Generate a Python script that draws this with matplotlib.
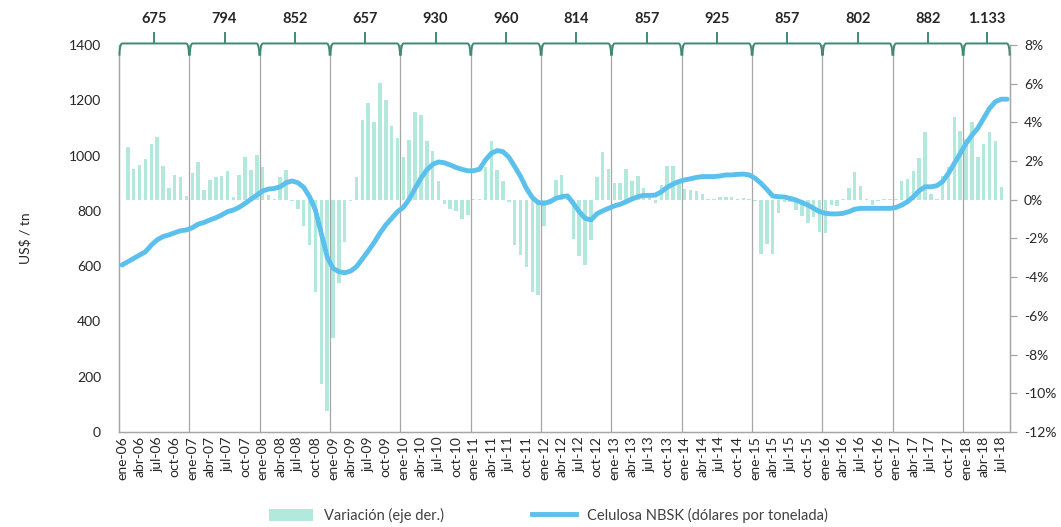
import numpy as np
import matplotlib.pyplot as plt
import matplotlib.transforms as mtransforms
from matplotlib.patches import Patch
from matplotlib.lines import Line2D

plt.rcParams['font.family'] = ['Lato', 'DejaVu Sans']

# precio mensual celulosa NBSK (US$/tn), ene-06 .. ago-18
precio = [
    604, 616, 628, 640, 652, 676, 695, 707, 713, 721, 728, 731,
    739, 752, 758, 767, 775, 785, 797, 803, 813, 827, 842, 857,
    872, 879, 881, 887, 902, 908, 902, 885, 851, 803, 719, 634,
    592, 580, 576, 582, 598, 626, 655, 685, 719, 749, 773, 797,
    813, 842, 881, 918, 948, 968, 977, 974, 966, 957, 950, 945,
    945, 951, 984, 1008, 1018, 1014, 994, 960, 924, 881, 848, 830,
    827, 833, 845, 851, 854, 827, 797, 773, 767, 789, 800, 809,
    818, 824, 833, 843, 851, 856, 856, 857, 869, 885, 897, 906,
    912, 916, 921, 924, 924, 924, 926, 930, 930, 932, 933, 930,
    918, 900, 878, 854, 851, 850, 845, 839, 830, 821, 809, 797,
    791, 789, 789, 791, 797, 806, 809, 809, 809, 809, 809, 809,
    812, 821, 833, 851, 873, 887, 887, 891, 906, 936, 972, 1008,
    1044, 1074, 1099, 1135, 1171, 1195, 1204, 1204,
]

# variacion mensual (%)
variacion = [
    0.0, 2.71, 1.60, 1.81, 2.10, 2.90, 3.24, 1.76, 0.60, 1.28, 1.16, 0.20,
    1.41, 1.95, 0.52, 1.03, 1.16, 1.24, 1.47, 0.14, 1.28, 2.21, 1.55, 2.29,
    1.69, 0.26, 0.03, 1.16, 1.55, -0.05, -0.47, -1.33, -2.36, -4.74, -9.53, -10.9,
    -7.16, -4.30, -2.16, -0.05, 1.16, 4.14, 5.00, 4.00, 6.03, 5.14, 3.79, 3.17,
    2.21, 3.10, 4.53, 4.40, 3.03, 2.50, 0.95, -0.22, -0.47, -0.60, -1.00, -0.81,
    0.05, 0.05, 1.72, 3.03, 1.55, 0.95, -0.10, -2.36, -2.84, -3.45, -4.79, -4.93,
    -1.38, 0.05, 1.03, 1.27, 0.05, -2.03, -2.93, -3.38, -2.10, 1.16, 2.45, 1.59,
    0.86, 0.86, 1.59, 0.95, 1.21, 0.60, 0.34, -0.17, 0.78, 1.76, 1.76, 1.03,
    0.55, 0.52, 0.43, 0.28, 0.05, 0.05, 0.17, 0.17, 0.17, 0.05, 0.08, 0.03,
    -0.05, -2.82, -2.28, -2.82, -0.66, -0.10, -0.10, -0.52, -0.86, -1.21, -0.91, -1.64,
    -1.72, -0.26, -0.31, 0.02, 0.60, 1.43, 0.69, 0.02, -0.26, -0.05, 0.03, 0.03,
    0.02, 0.95, 1.07, 1.50, 2.16, 3.50, 0.31, 0.02, 1.24, 1.67, 4.26, 3.57,
    3.14, 4.00, 2.21, 2.90, 3.50, 3.05, 0.66, 0.0,
]

anios = list(range(2006, 2019))
promedios = ['675', '794', '852', '657', '930', '960', '814', '857',
             '925', '857', '802', '882', '1.133']
meses = ['ene', 'feb', 'mar', 'abr', 'may', 'jun', 'jul', 'ago', 'sep', 'oct', 'nov', 'dic']

color_barra = '#b3e9dc'
color_linea = '#5bc0eb'
color_grid = '#a6a6a6'
color_llave = '#3f8a74'
color_texto = '#262626'

n = len(precio)
x = np.arange(n)

fig = plt.figure(figsize=(10.61, 5.27), dpi=100)
ax = fig.add_axes([0.1122, 0.1803, 0.8398, 0.7343])
ax2 = ax.twinx()

ax2.bar(x, variacion, width=0.6, color=color_barra, zorder=2)
ax.plot(x, precio, color=color_linea, lw=3.5, solid_capstyle='round', zorder=3)
ax.set_zorder(ax2.get_zorder() + 1)
ax.patch.set_visible(False)

ax.set_xlim(-0.5, n - 0.5)
ax.set_ylim(0, 1400)
ax.set_yticks(range(0, 1401, 200))
ax2.set_ylim(-12, 8)
ax2.set_yticks(range(-12, 9, 2))
ax2.set_yticklabels([f'{v}%' for v in range(-12, 9, 2)])

# lineas de separacion por anio
for k in range(1, len(anios)):
    ax.axvline(12 * k - 0.5, color=color_grid, lw=0.9, zorder=1)

# etiquetas eje x cada 3 meses
xt = [i for i in range(n) if i % 3 == 0]
xl = [f'{meses[i % 12]}-{(anios[i // 12]) % 100:02d}' for i in xt]
ax.set_xticks(xt)
ax.set_xticklabels(xl, rotation=90, fontsize=10, color=color_texto)
ax.tick_params(axis='x', length=0, pad=3)
ax.tick_params(axis='y', length=0, pad=13, labelsize=10, labelcolor=color_texto)
ax2.tick_params(axis='y', length=5, width=0.9, color=color_grid, pad=5,
                labelsize=10, labelcolor=color_texto)

for a in (ax, ax2):
    a.spines['top'].set_visible(False)
    for s in ('left', 'right', 'bottom'):
        a.spines[s].set_color(color_grid)
        a.spines[s].set_linewidth(0.9)

ax.set_ylabel('US$ / tn', fontsize=10, color=color_texto)
ax.yaxis.set_label_coords(-0.098, 0.5)

# llaves con promedio anual
trans = mtransforms.blended_transform_factory(ax.transData, ax.transAxes)
y_line, y_low, y_top = 1.004, 0.975, 1.03
t = np.linspace(0, np.pi / 2, 12)
for k, lab in enumerate(promedios):
    x0 = 12 * k - 0.5 + 0.08
    x1 = min(12 * k + 11.5, n - 0.5) - 0.08
    xc = (x0 + x1) / 2
    rx = 0.45
    lx = x0 + rx * (1 - np.cos(t))
    ly = y_low + (y_line - y_low) * np.sin(t)
    rxp = x1 - rx * (1 - np.cos(t))
    xs = np.concatenate([lx, rxp[::-1]])
    ys = np.concatenate([ly, ly[::-1]])
    ax.plot(xs, ys, color=color_llave, lw=1.4, transform=trans, clip_on=False, zorder=5)
    ax.plot([xc, xc], [y_line, y_top], color=color_llave, lw=1.4,
            transform=trans, clip_on=False, zorder=5)
    ax.text(xc, 1.068, lab, transform=trans, ha='center', va='center',
            fontsize=10.5, fontweight='bold', color=color_texto)

handles = [Patch(facecolor=color_barra, edgecolor='none'),
           Line2D([0], [0], color=color_linea, lw=3.5)]
labels = ['Variación (eje der.)', 'Celulosa NBSK (dólares por tonelada)']
fig.legend(handles, labels, loc='center', bbox_to_anchor=(0.517, 0.022), ncol=2,
           frameon=False, fontsize=10.5, handlelength=3.0, handleheight=0.9,
           columnspacing=6.0, labelcolor='#404040')

fig.savefig('out.png', dpi=100)
